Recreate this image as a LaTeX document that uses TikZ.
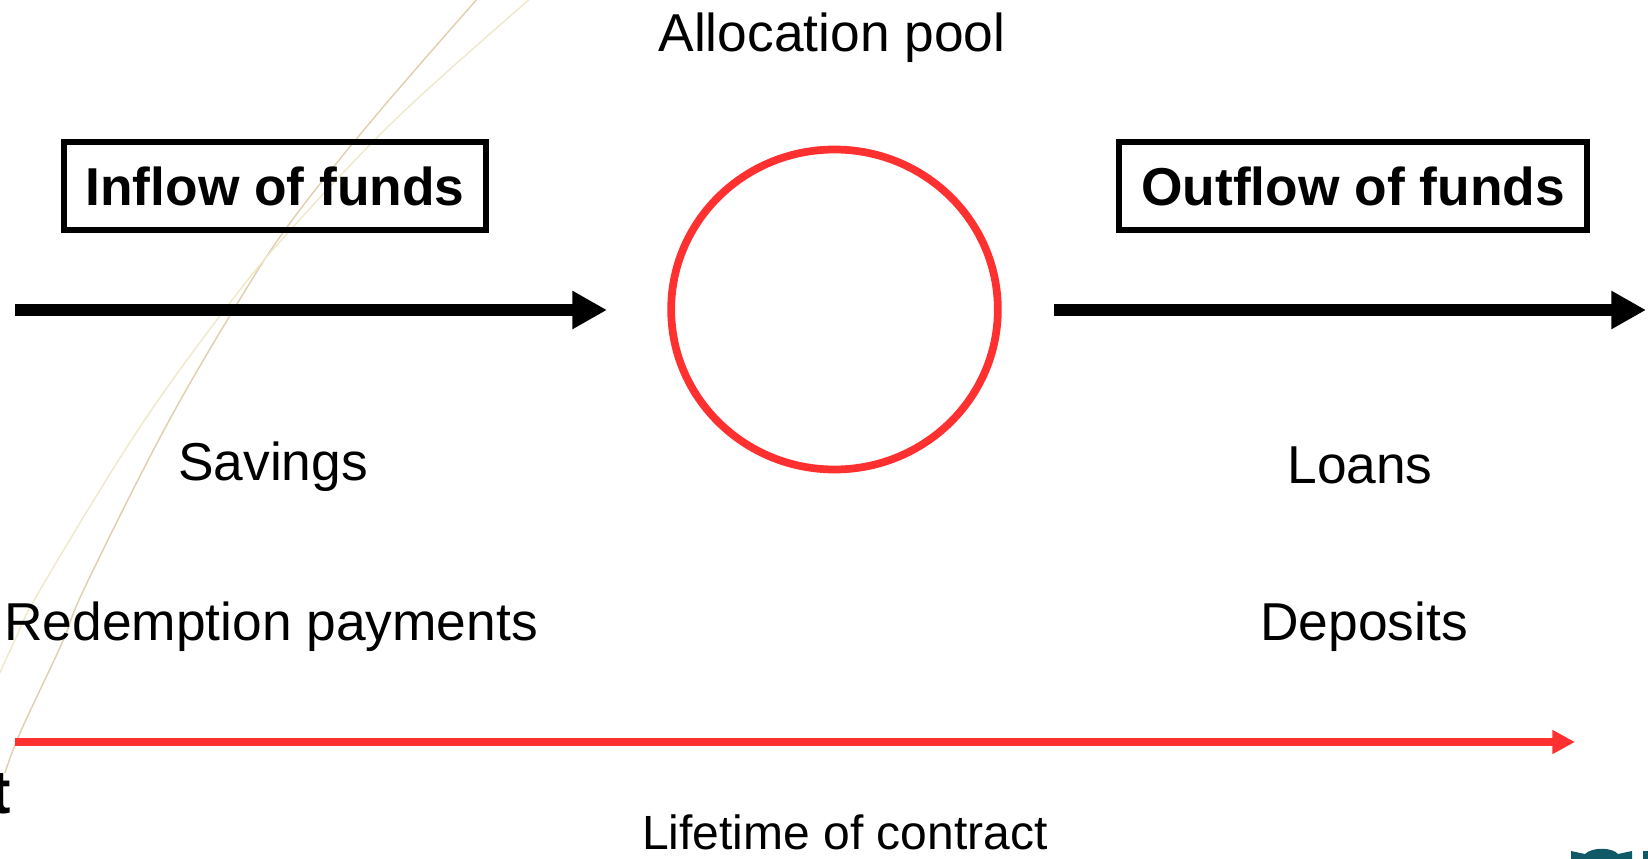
\documentclass[tikz,border=0pt]{standalone}
\usepackage{fontspec}
\setmainfont{Liberation Sans}
\usetikzlibrary{arrows.meta,shapes.geometric}
\definecolor{pen}{HTML}{000000}
\definecolor{redpen}{HTML}{FF3030}
\definecolor{tanline}{HTML}{E0D0B0}
\definecolor{paleline}{HTML}{EFE9CC}
\definecolor{logoteal}{HTML}{0F5A66}
\tikzset{
  x=0.75pt,y=-0.75pt,
  label text/.style={font=\fontsize{40}{48}\selectfont,anchor=base,inner sep=0pt},
  life text/.style={font=\fontsize{36}{43}\selectfont,anchor=base,inner sep=0pt},
  fund box/.style={draw=pen,line width=4.5pt,inner sep=0pt,minimum height=66pt,
    font=\fontsize{40}{48}\bfseries\selectfont,text depth=0pt},
  flow arrow/.style={draw=pen,line width=9pt,-{Triangle[length=26pt,width=27pt]}},
  life arrow/.style={draw=redpen,line width=6pt,-{Triangle[length=17pt,width=17pt]}},
  pool circle/.style={ellipse,draw=redpen,line width=5.8pt,minimum width=245pt,minimum height=240pt,inner sep=0pt},
}
\begin{document}
\begin{tikzpicture}
\path[use as bounding box,clip] (0,0) rectangle (1648,859);
% background arcs
\draw[tanline,line width=1.1pt] plot[smooth,tension=0.6] coordinates
  {(478,-2) (373,119) (290,223) (237,304) (164,430) (85,587) (62,643) (20,733) (5,773)};
\draw[paleline,line width=1.1pt] plot[smooth,tension=0.6] coordinates
  {(531,-2) (399,116) (294,226) (229,304) (138,430) (40,590) (15,640) (-2,677)};
% title
\node[label text] (title) at (832,52) {Allocation pool};
% boxes
\node[fund box,minimum width=317pt] (inflow) at (275,186) {Inflow of funds};
\node[fund box,minimum width=351pt] (outflow) at (1353,186) {Outflow of funds};
% pool
\node[pool circle] (pool) at (834.5,309.5) {};
% flow arrows
\coordinate (inA) at (15,310);
\coordinate (inB) at (607,310);
\coordinate (outA) at (1054,310);
\coordinate (outB) at (1646,310);
\draw[flow arrow] (inA) -- (inB);
\draw[flow arrow] (outA) -- (outB);
% labels
\node[label text] (savings) at (273,480) {Savings};
\node[label text] (redemption) at (271,640) {Redemption payments};
\node[label text] (loans) at (1360,483) {Loans};
\node[label text] (deposits) at (1364,640) {Deposits};
% lifetime
\coordinate (lifeA) at (15,742);
\coordinate (lifeB) at (1575,742);
\draw[life arrow] (lifeA) -- (lifeB);
\node[life text] (lifetime) at (845,849) {Lifetime of contract};
% cut-off pieces
\node[anchor=base east,inner sep=0pt,font=\fontsize{46}{52}\bfseries\selectfont] (cut) at (11,813) {t};
\fill[logoteal] (1571,851) -- (1585,854) .. controls (1592,847) and (1612,847) .. (1618,854) -- (1632,851) -- (1632,860) -- (1571,860) -- cycle;
\fill[logoteal] (1643,851) -- (1649,851) -- (1649,860) -- (1643,860) -- cycle;
\end{tikzpicture}
\end{document}
